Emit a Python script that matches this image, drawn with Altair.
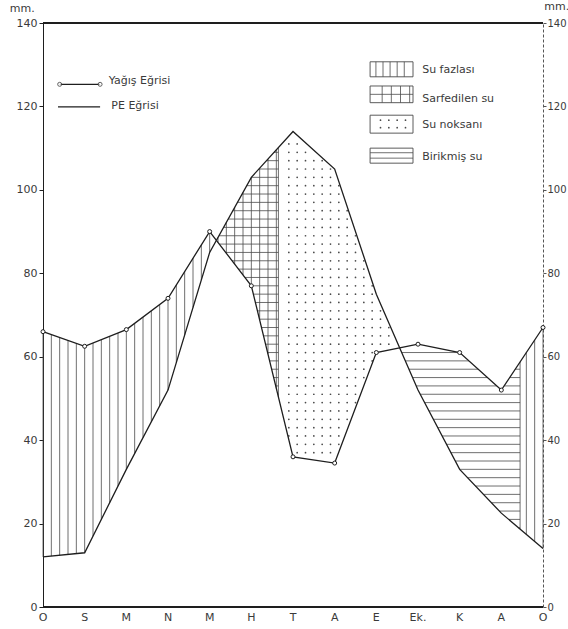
import numpy as np
import pandas as pd
import altair as alt

# Monthly water balance (mm): precipitation and potential evapotranspiration
months = ["O", "S", "M", "N", "M", "H", "T", "A", "E", "Ek.", "K", "A", "O"]
yagis = [66, 62.5, 66.5, 74, 90, 77, 36, 34.5, 61, 63, 61, 52, 67]
pe = [12, 13, 33, 52, 85, 103, 114, 105, 75, 52, 33, 22.5, 14]
y_ticks = [0, 20, 40, 60, 80, 100, 120, 140]

# month positions where stored soil water is used up / refilled
utilization_end = 5.65
recharge_end = 11.45

legend_lines = ["Yağış Eğrisi", "PE Eğrisi"]
legend_areas = ["Su fazlası", "Sarfedilen su", "Su noksanı", "Birikmiş su"]

INK = "#1e1e1e"
HATCH = "#4a4a4a"
TEXT = "#3a3a3a"
FONT = "DejaVu Sans"

idx = np.arange(len(months))
P = lambda x: np.interp(x, idx, yagis)
E = lambda x: np.interp(x, idx, pe)
const = lambda v: (lambda x: np.full_like(np.asarray(x, dtype=float), v))

# where precipitation and PE curves cross
diff = np.array(yagis) - np.array(pe)
crossings = []
for i in range(len(diff) - 1):
    if diff[i] * diff[i + 1] < 0:
        crossings.append(i + diff[i] / (diff[i] - diff[i + 1]))
cross1, cross2 = crossings


def vlines(x0, x1, lo, hi, step):
    xs = np.arange(np.ceil(x0 / step - 1e-9) * step, x1 + 1e-9, step)
    return [{"x": x, "x2": x, "y": float(lo(x)), "y2": float(hi(x))} for x in xs]


def hlines(x0, x1, lo, hi, levels):
    xs = np.linspace(x0, x1, 3001)
    l, h = lo(xs), hi(xs)
    rows = []
    for y in levels:
        inside = (l <= y) & (y <= h)
        if not inside.any():
            continue
        edges = np.diff(inside.astype(int))
        starts = list(np.where(edges == 1)[0] + 1)
        ends = list(np.where(edges == -1)[0])
        if inside[0]:
            starts = [0] + starts
        if inside[-1]:
            ends = ends + [len(xs) - 1]
        for s, e in zip(starts, ends):
            rows.append({"x": xs[s], "x2": xs[e], "y": y, "y2": y})
    return rows


def dots(x0, x1, lo, hi, xstep, levels):
    rows = []
    for x in np.arange(np.ceil(x0 / xstep - 1e-9) * xstep + xstep / 2, x1, xstep):
        for y in levels:
            if lo(x) + 0.6 <= y <= hi(x) - 0.6:
                rows.append({"x": x, "y": y})
    return rows


mm_levels = np.arange(1, 140, 2.0)

segs = []
# Su fazlası: precipitation above PE
segs += vlines(0, cross1, E, P, 0.2)
segs += vlines(recharge_end, 12, E, P, 0.2)
# Sarfedilen su: grid between PE (top) and precipitation
segs += vlines(cross1, utilization_end, P, E, 0.2)
segs += [{"x": utilization_end, "x2": utilization_end,
          "y": float(P(utilization_end)), "y2": float(E(utilization_end))}]
segs += hlines(cross1, utilization_end, P, E, mm_levels)
# Birikmiş su: horizontal lines
segs += hlines(cross2, recharge_end, E, P, mm_levels)
segs += [{"x": recharge_end, "x2": recharge_end,
          "y": float(E(recharge_end)), "y2": float(P(recharge_end))}]
# Su noksanı: dotted
dot_rows = dots(utilization_end, cross2, P, E, 0.2, mm_levels)

# legend swatches (month-index / mm units)
box_x0, box_x1 = 7.85, 8.88
boxes = [(127.1, 130.7), (120.9, 124.9), (113.6, 117.9), (106.4, 110.0)]
segs += vlines(box_x0 + 0.05, box_x1 - 0.05, const(boxes[0][0]), const(boxes[0][1]), 0.17)
segs += vlines(box_x0 + 0.1, box_x1 - 0.05, const(boxes[1][0]), const(boxes[1][1]), 0.22)
segs += hlines(box_x0, box_x1, const(boxes[1][0]), const(boxes[1][1]), [122.9])
dot_rows += dots(box_x0, box_x1, const(boxes[2][0]), const(boxes[2][1]), 0.2, [114.9, 116.7])
segs += hlines(box_x0, box_x1, const(boxes[3][0]), const(boxes[3][1]), [107.6, 108.9])

seg_df = pd.DataFrame(segs)
dot_df = pd.DataFrame(dot_rows)
curve_df = pd.DataFrame({"i": idx, "yagis": yagis, "pe": pe})
month_df = pd.DataFrame({"i": idx, "m": months})
box_df = pd.DataFrame({"x": [box_x0] * 4, "x2": [box_x1] * 4,
                       "y": [b[0] for b in boxes], "y2": [b[1] for b in boxes]})
area_lbl_df = pd.DataFrame({"x": [9.1] * 4, "y": [128.7, 121.8, 115.6, 107.9],
                            "t": legend_areas})
line_lbl_df = pd.DataFrame({"x": [1.58, 1.64], "y": [126.2, 120.2], "t": legend_lines})
line_key_df = pd.DataFrame({"x": [0.4, 0.36], "x2": [1.37, 1.37], "y": [125.3, 119.9]})
key_pts_df = pd.DataFrame({"x": [0.4, 1.37], "y": [125.3, 125.3]})
unit_df = pd.DataFrame({"x": [-0.5, 12.33], "y": [143.4, 143.9], "t": ["mm.", "mm."]})
frame_df = pd.DataFrame({"y": [0, 140]})

xs = alt.Scale(domain=[0, 12], nice=False, zero=False)
ys = alt.Scale(domain=[0, 140], nice=False)

X = lambda f: alt.X(f, type="quantitative", scale=xs, axis=None)
Y = lambda f: alt.Y(f, type="quantitative", scale=ys, axis=None)

hatch = alt.Chart(seg_df).mark_rule(color=HATCH, strokeWidth=0.8).encode(
    x=X("x"), x2="x2", y=Y("y"), y2="y2")
dot_layer = alt.Chart(dot_df).mark_circle(color=HATCH, size=3, opacity=1).encode(
    x=X("x"), y=Y("y"))

pe_line = alt.Chart(curve_df).mark_line(color=INK, strokeWidth=1.3).encode(
    x=alt.X("i:Q", scale=xs, title=None,
            axis=alt.Axis(values=list(range(13)), labels=False, tickSize=3,
                          domain=False, tickColor=INK, grid=False)),
    y=alt.Y("pe:Q", scale=ys, title=None,
            axis=alt.Axis(values=y_ticks, tickSize=4, labelPadding=2, grid=False,
                          domainColor=INK, tickColor=INK)))

yagis_line = alt.Chart(curve_df).mark_line(
    color=INK, strokeWidth=1.3,
    point=alt.OverlayMarkDef(shape="circle", filled=False, fill="white",
                             stroke=INK, strokeWidth=1, size=16)).encode(
    x=X("i:Q"),
    y=alt.Y("yagis:Q", scale=ys, title=None,
            axis=alt.Axis(orient="right", values=y_ticks, tickSize=3, labelPadding=1,
                          labelFontSize=10, grid=False, domainColor="#555",
                          domainDash=[3, 2], tickColor="#555")))

# top edge at 140 mm and the thick base line at 0
frame = alt.Chart(frame_df).mark_rule(color=INK, strokeWidth=2).encode(y=Y("y"))

month_labels = alt.Chart(month_df).mark_text(
    baseline="middle", font=FONT, fontSize=11, color=TEXT).encode(
    x=X("i"), y=alt.datum(-2.6, type="quantitative", scale=ys, axis=None), text="m")

boxes_layer = alt.Chart(box_df).mark_rect(fillOpacity=0, stroke=HATCH, strokeWidth=0.9).encode(
    x=X("x"), x2="x2", y=Y("y"), y2="y2")
area_labels = alt.Chart(area_lbl_df).mark_text(
    align="left", baseline="middle", font=FONT, fontSize=11, color=TEXT).encode(
    x=X("x"), y=Y("y"), text="t")
line_labels = alt.Chart(line_lbl_df).mark_text(
    align="left", baseline="middle", font=FONT, fontSize=11, color=TEXT).encode(
    x=X("x"), y=Y("y"), text="t")
line_keys = alt.Chart(line_key_df).mark_rule(color=INK, strokeWidth=1.3).encode(
    x=X("x"), x2="x2", y=Y("y"))
key_pts = alt.Chart(key_pts_df).mark_point(
    shape="circle", filled=False, fill="white", stroke=INK, strokeWidth=1, size=16).encode(
    x=X("x"), y=Y("y"))
units = alt.Chart(unit_df).mark_text(
    align="center", baseline="middle", font=FONT, fontSize=11, color=TEXT).encode(
    x=X("x"), y=Y("y"), text="t")

chart = alt.layer(
    hatch, dot_layer, pe_line, yagis_line, frame, month_labels,
    boxes_layer, area_labels, line_labels, line_keys, key_pts, units,
).resolve_axis(y="independent").properties(
    width=500, height=584,
    autosize=alt.AutoSizeParams(type="none"),
    padding={"left": 43, "top": 23, "right": 25, "bottom": 22},
    background="white",
).configure_view(stroke=None).configure_axis(
    labelFont=FONT, labelFontSize=11, labelColor=TEXT,
)

chart.save("out.html", embed_options={"renderer": "svg", "actions": False})
